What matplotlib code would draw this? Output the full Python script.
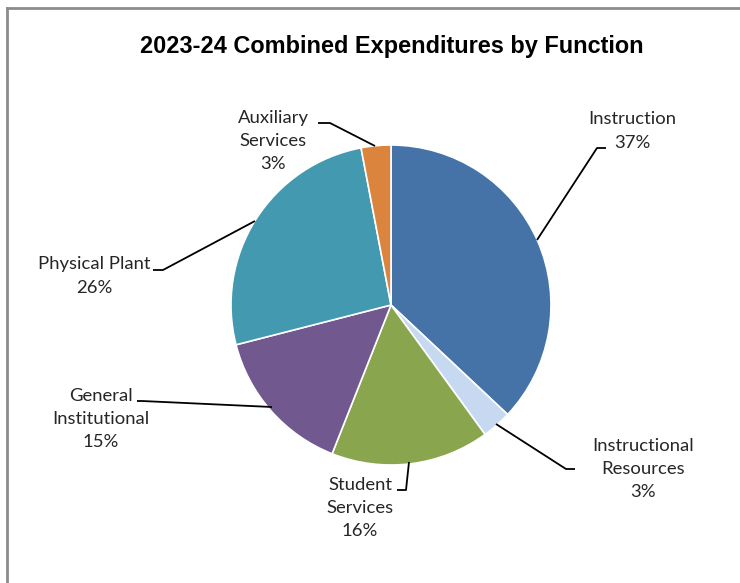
import matplotlib
matplotlib.use('Agg')
import matplotlib.pyplot as plt
from matplotlib.lines import Line2D

# ---- data ----
categories = ['Instruction', 'Instructional\nResources', 'Student\nServices',
              'General\nInstitutional', 'Physical Plant', 'Auxiliary\nServices']
shares = [37, 3, 16, 15, 26, 3]
colors = ['#4573A7', '#C6D9F0', '#89A54E', '#71588F', '#4299B0', '#DB843D']

# label centres and leader line paths (pixel space, y down)
label_pos = [(632, 131), (643, 469), (360, 508), (101, 419), (94, 276), (273, 141)]
leaders = [
    [(537, 240), (597, 148), (606, 148)],
    [(496, 424), (566, 469), (575, 469)],
    [(409, 462), (406, 490), (397, 490)],
    [(272, 407), (142, 401), (137, 401)],
    [(255, 221), (163, 270), (153, 270)],
    [(375, 146), (330, 123), (318, 123)],
]

W, H = 740, 583
fig = plt.figure(figsize=(W / 100, H / 100), dpi=100)
ax = fig.add_axes([0, 0, 1, 1])

cx, cy, r = 391, 305, 160
ax.pie(shares, colors=colors, startangle=90, counterclock=False,
       center=(cx, H - cy), radius=r, frame=True,
       wedgeprops=dict(edgecolor='white', linewidth=1.2))
ax.set_xlim(0, W)
ax.set_ylim(0, H)
ax.set_aspect('equal')
ax.axis('off')

for name, v, (lx, ly), pts in zip(categories, shares, label_pos, leaders):
    xs = [p[0] for p in pts]
    ys = [H - p[1] for p in pts]
    ax.plot(xs, ys, color='black', lw=1.3, solid_capstyle='butt')
    ax.text(lx, H - ly, f'{name}\n{v}%', ha='center', va='center',
            fontsize=13.3, family='Lato', color='#262626', linespacing=1.56)

ax.text(392, H - 47, '2023-24 Combined Expenditures by Function',
        ha='center', va='center', fontsize=16.9, fontweight='bold',
        family='Liberation Sans')

# chart frame (left and top edges)
fig.add_artist(Line2D([7 / W, 7 / W], [0, 1 - 8 / H], transform=fig.transFigure,
                      color='#8C8C8C', lw=2))
fig.add_artist(Line2D([7 / W, 1], [1 - 8 / H, 1 - 8 / H], transform=fig.transFigure,
                      color='#8C8C8C', lw=2))

fig.savefig('out.png', dpi=100)
